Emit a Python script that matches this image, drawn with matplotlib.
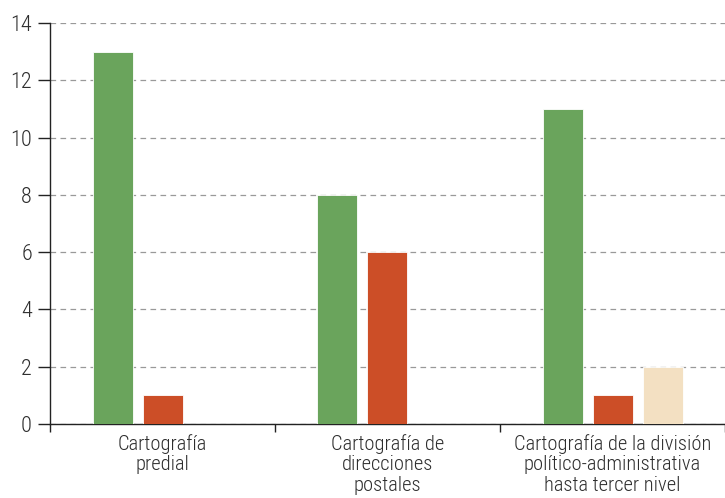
import matplotlib
matplotlib.use("Agg")
import matplotlib.pyplot as plt
import numpy as np

plt.rcParams['font.family'] = ['Roboto Condensed', 'DejaVu Sans']

categories = ["Cartografía\npredial",
              "Cartografía de\ndirecciones\npostales",
              "Cartografía de la división\npolítico-administrativa\nhasta tercer nivel"]
series1 = [13, 8, 11]
series2 = [1, 6, 1]
series3 = [0, 0, 2]
colors = ["#6aa45c", "#cc4e27", "#f3e0c2"]
yticks = [0, 2, 4, 6, 8, 10, 12, 14]

fig = plt.figure(figsize=(7.25, 4.98), dpi=100)
ax = fig.add_axes([50/725, 74/498, 675/725, 401/498])

centers = np.arange(len(categories)) + 0.5
step = 50/225
width = 40/225
for i, (vals, c) in enumerate(zip([series1, series2, series3], colors)):
    ax.bar(centers + (i - 1) * step, vals, width=width, color=c,
           edgecolor='white', linewidth=0.6, zorder=3)

ax.set_xlim(0, 3)
ax.set_ylim(0, 14)
ax.set_yticks(yticks)
ax.set_yticklabels([str(v) for v in yticks])
ax.yaxis.grid(True, linestyle=(0, (4.5, 3.5)), color='#999999', linewidth=0.9, zorder=0)
ax.set_axisbelow(True)

ax.set_xticks([0, 1, 2, 3])
ax.set_xticklabels([])
ax.set_xticks(centers, minor=True)
ax.set_xticklabels(categories, minor=True)
ax.tick_params(axis='x', which='minor', length=0, pad=7, labelsize=14.8, labelcolor='#2e2e2e')
ax.tick_params(axis='x', which='major', length=6, width=1, color='#222222', direction='out')
ax.tick_params(axis='y', length=9, width=1, color='#222222', labelsize=16, labelcolor='#2e2e2e', pad=4)

for s in ['top', 'right']:
    ax.spines[s].set_visible(False)
for s in ['left', 'bottom']:
    ax.spines[s].set_color('#222222')
    ax.spines[s].set_linewidth(1)

for lab in ax.get_xticklabels(minor=True) + ax.get_yticklabels():
    lab.set_fontweight('light')
for lab in ax.get_xticklabels(minor=True):
    lab.set_linespacing(1.12)

fig.savefig("out.png", dpi=100)
